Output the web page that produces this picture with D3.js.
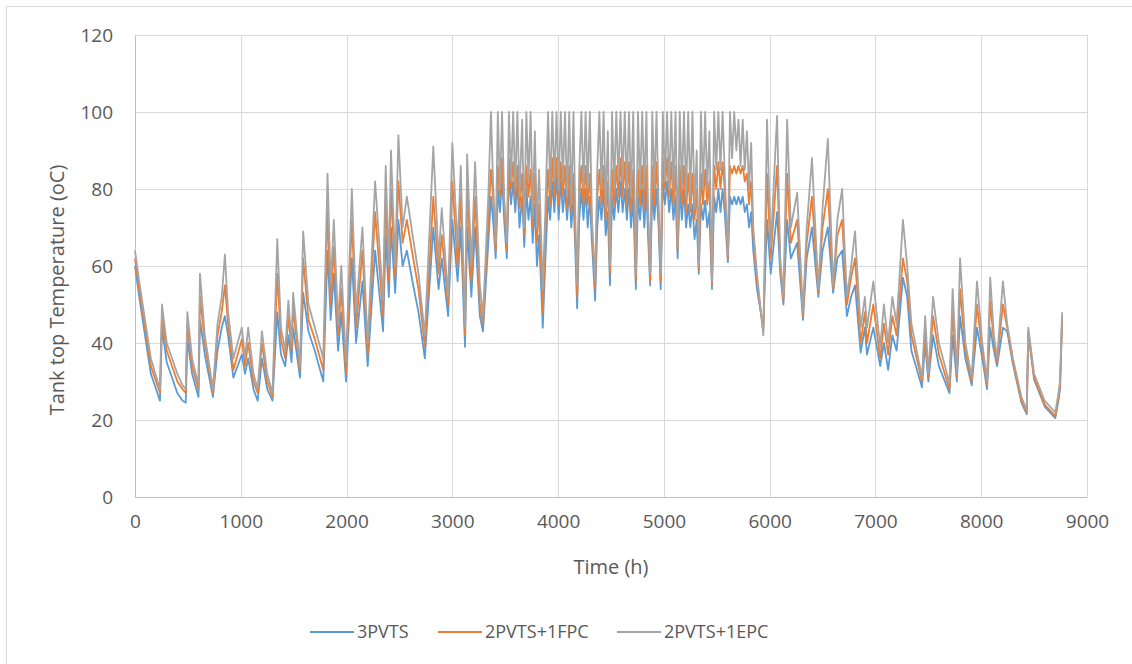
<!DOCTYPE html>
<html>
<head>
<meta charset="utf-8">
<script src="https://cdn.jsdelivr.net/npm/d3@7"></script>
<style>
  body { margin: 0; background: #fff; }
  svg text { font-family: "Open Sans", "Noto Sans", sans-serif; fill: #595959; }
</style>
</head>
<body>
<svg id="chart" width="1132" height="664"></svg>
<script>
// hour samples (peaks / troughs)
var hours = [0,40,100,150,236,255,300,400,450,480,495,540,600,614,660,737,780,820,850,880,930,1010,1040,1070,1120,1160,1200,1250,1300,1345,1380,1420,1450,1480,1495,1560,1590,1640,1700,1780,1820,1850,1880,1920,1950,1995,2050,2090,2150,2200,2270,2345,2370,2400,2420,2460,2490,2530,2570,2630,2680,2740,2820,2870,2900,2960,3000,3050,3080,3120,3140,3180,3215,3260,3290,
  3340,3365,3385,3410,3430,3450,3470,3490,3515,3535,3555,3575,3595,3615,3635,3660,3680,3700,3720,3740,3760,3780,3800,3820,3855,3880,3905,3925,3945,3965,3985,4005,4025,4045,4065,4085,4105,4125,4145,4165,4180,4200,4220,4240,4260,4280,4300,4320,4350,4370,4390,4410,4430,4450,4470,4490,4510,4530,4550,4570,4590,4610,4630,4650,4670,4690,4710,4735,4755,4775,4795,4815,4835,4850,4870,4890,4910,4930,4950,4970,4990,5010,5030,5050,5070,5090,5110,5130,5150,5170,5190,5210,5230,5250,5270,5290,5310,5330,5350,5370,5390,5410,5430,5455,5475,5495,5515,5535,5555,5575,5605,5625,5645,5665,5685,5705,5725,5745,5765,5785,5805,5825,5845,5880,5940,
  5975,6010,6070,6100,6130,6165,6200,6260,6315,6350,6400,6460,6500,6550,6600,6640,6685,6730,6770,6807,6860,6900,6920,6980,7045,7080,7120,7160,7200,7260,7300,7340,7440,7470,7500,7545,7600,7700,7730,7770,7800,7850,7910,7960,8010,8055,8085,8120,8150,8205,8245,8300,8380,8430,8445,8500,8600,8700,8730,8745,8765];

var pvts3 = [60,52,41,32,25,44,35,27,25,24.5,41,32,26,46,37,26,38,44,47,42,31,37,32,36,28,25,36,28,25,48,37,34,42,35,44,31,53,43,38,30,64,46,58,38,48,30,62,40,56,34,64,43,68,52,70,53,72,60,64,55,48,36,70,54,62,47,72,56,70,39,70,52,70,47,43,
  66,78,72,62,80,74,83,72,62,84,76,82,74,82,70,78,65,80,72,78,66,76,60,68,44,62,78,72,82,74,84,72,82,74,80,72,80,70,78,62,49,72,80,72,80,70,78,66,51,70,78,72,80,68,74,55,78,72,80,74,82,74,80,72,80,70,78,54,78,72,80,70,80,68,55,80,72,80,70,54,82,76,82,74,80,72,78,62,80,72,80,70,76,70,76,67,72,58,76,72,77,70,74,54,78,74,80,74,80,74,61,78,76,78,76,78,76,78,74,76,70,74,64,54,44,
  72,58,74,58,50,72,62,66,46,62,70,52,64,70,53,62,64,47,52,55,37.5,44,37,44,34,40,33,42,38,57,52,38,28.5,40,30,42,34,27,42,30,47,36,29,44,36,28,44,38,34,44,43,34.5,24.5,21.5,42.5,30.5,23.5,20.5,25,28,46];

var pvtsFpc = [62,54,43,34,27,47,38,30,28,27,45,34,28,52,40,27,42,48,55,45,33,41,34,40,30,27,40,30,26,58,41,36,47,38,49,33,62,46,41,33,75,50,65,42,54,32,72,44,64,37,74,47,78,56,80,57,82,66,72,62,54,39,78,58,68,50,82,60,78,42,80,56,78,50,45,
  72,85,78,64,86,78,88,76,64,88,80,87,78,86,75,84,68,86,78,85,70,84,66,76,48,70,85,76,88,78,88,76,87,78,86,75,86,74,84,66,52,78,86,76,86,76,84,70,54,78,85,76,86,72,82,58,85,76,86,78,88,78,87,76,87,74,85,56,85,76,86,75,86,72,56,86,76,87,74,56,88,80,88,78,87,76,86,64,86,76,86,74,84,74,84,72,80,59,84,76,85,76,82,55,86,80,87,80,87,80,62,86,84,86,84,86,84,86,82,84,76,82,68,56,43,
  84,62,86,60,51,84,66,72,47,66,78,53,70,80,54,68,72,50,57,62,40,48,40,50,36,45,37,47,42,62,56,42,30,44,31,47,37,28,48,31,54,38,30,50,38,29,51,40,35,50,44,35,25,22,43,31,24,21,26,29,47];

var pvtsEpc = [64,56,45,36,28,50,40,32,29,28,48,36,29,58,42,28,45,52,63,48,36,44,36,44,32,28,43,32,27,67,44,38,51,40,53,34,69,50,44,36,84,55,72,45,60,35,80,48,70,40,82,51,86,60,90,60,94,70,78,67,58,42,91,62,75,52,92,65,86,44,89,60,87,55,47,
  78,100,82,66,100,80,100,78,66,100,82,100,80,100,78,98,70,100,82,100,73,95,70,85,54,75,100,80,100,82,100,80,100,82,100,78,100,76,100,70,55,85,100,80,100,80,100,72,56,85,100,80,100,75,95,60,100,80,100,82,100,82,100,80,100,78,100,58,100,80,100,80,100,75,58,100,80,100,76,58,100,82,100,80,100,80,100,65,100,80,100,78,100,78,100,75,90,60,100,80,100,80,95,56,100,85,100,85,100,84,63,100,88,100,90,98,86,98,85,95,80,92,70,58,42,
  98,65,99,62,52,98,70,79,48,70,88,54,75,93,55,72,80,52,60,69,44,52,44,56,39,50,40,52,45,72,60,45,31,47,32,52,40,29.5,54,32,62,40,31,56,40,30,57,42,36,56,45,36,26,22.6,44,32,25,22,27,30,48];

var xTicks = [0,1000,2000,3000,4000,5000,6000,7000,8000,9000];
var yTicks = [0,20,40,60,80,100,120];

var seriesNames = ["3PVTS", "2PVTS+1FPC", "2PVTS+1EPC"];
var seriesColors = ["#5B9BD5", "#ED7D31", "#A5A5A5"];
var seriesValues = [pvts3, pvtsFpc, pvtsEpc];

var svg = d3.select("#chart");
var plotL = 135, plotR = 1087, plotT = 35, plotB = 497;

// chart area border (only left/top edges fall inside the picture)
svg.append("rect")
   .attr("x", 6.5).attr("y", 6.5)
   .attr("width", 1140).attr("height", 670)
   .attr("fill", "none").attr("stroke", "#d9d9d9");

var x = d3.scaleLinear().domain([0, 9000]).range([plotL, plotR]);
var y = d3.scaleLinear().domain([0, 120]).range([plotB, plotT]);

// grid
svg.append("g")
   .selectAll("line")
   .data(yTicks)
   .enter()
   .append("line")
     .attr("x1", plotL).attr("x2", plotR)
     .attr("y1", d => Math.round(y(d)) + 0.5).attr("y2", d => Math.round(y(d)) + 0.5)
     .attr("stroke", "#d9d9d9");

svg.append("g")
   .selectAll("line")
   .data(xTicks)
   .enter()
   .append("line")
     .attr("y1", plotT).attr("y2", plotB)
     .attr("x1", d => Math.round(x(d)) + 0.5).attr("x2", d => Math.round(x(d)) + 0.5)
     .attr("stroke", "#d9d9d9");

// axes
var yAxis = svg.append("g")
   .attr("transform", "translate(" + plotL + ",0)")
   .call(d3.axisLeft(y).tickValues(yTicks).tickSize(0).tickPadding(22));
var xAxis = svg.append("g")
   .attr("transform", "translate(0," + plotB + ")")
   .call(d3.axisBottom(x).tickValues(xTicks).tickSize(0).tickPadding(18).tickFormat(d3.format("d")));
[yAxis, xAxis].forEach(function(a) {
  a.select(".domain").attr("stroke", "#bfbfbf");
  a.selectAll("text").style("font-size", "19px").attr("fill", "#595959")
   .style("font-family", '"Open Sans", sans-serif');
});

// lines
var line = d3.line()
  .x((d, i) => x(hours[i]))
  .y(d => y(d));

svg.append("g")
   .selectAll("path")
   .data(seriesValues)
   .enter()
   .append("path")
     .attr("d", line)
     .attr("fill", "none")
     .attr("stroke", (d, i) => seriesColors[i])
     .attr("stroke-width", 1.8)
     .attr("stroke-linejoin", "round");

// axis titles
svg.append("text")
   .attr("transform", "translate(64,290) rotate(-90)")
   .attr("text-anchor", "middle")
   .style("font-size", "20px")
   .text("Tank top Temperature  (oC)");

svg.append("text")
   .attr("x", 611).attr("y", 574)
   .attr("text-anchor", "middle")
   .style("font-size", "20px")
   .text("Time (h)");

// legend
var legendX = [310, 438, 617];
var legend = svg.append("g")
   .selectAll("g")
   .data(seriesNames)
   .enter()
   .append("g")
     .attr("transform", (d, i) => "translate(" + legendX[i] + ",632)");
legend.append("line")
   .attr("x1", 0).attr("x2", 44)
   .attr("stroke", (d, i) => seriesColors[i])
   .attr("stroke-width", 2);
legend.append("text")
   .attr("x", 47).attr("dy", "0.35em")
   .style("font-size", "18px")
   .text(d => d);
</script>
</body>
</html>
